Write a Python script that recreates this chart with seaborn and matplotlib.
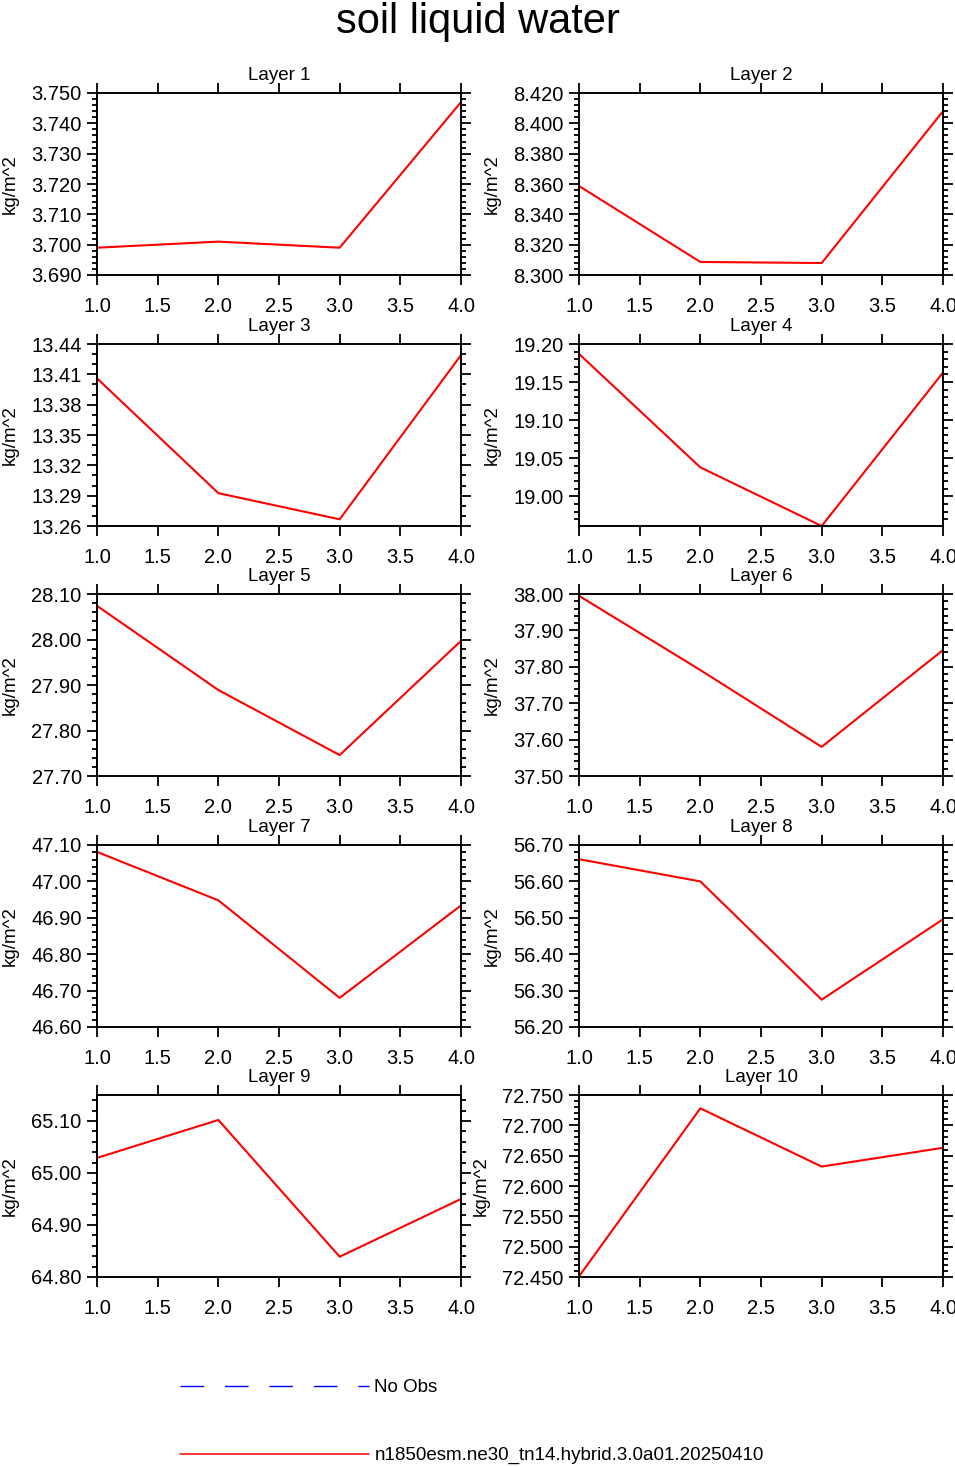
import numpy as np
import pandas as pd
import seaborn as sns
import matplotlib.pyplot as plt
from matplotlib.lines import Line2D
from matplotlib.ticker import FormatStrFormatter, MultipleLocator

sns.set_style("ticks")
plt.rcParams['font.family'] = ['Liberation Sans', 'DejaVu Sans']
plt.rcParams.update({"text.color": "black", "axes.labelcolor": "black",
                     "xtick.color": "black", "ytick.color": "black",
                     "axes.edgecolor": "black"})

# values
years = [1, 2, 3, 4]
layer1 = [3.699, 3.701, 3.699, 3.747]
layer2 = [8.3587, 8.3086, 8.3079, 8.408]
layer3 = [13.406, 13.2925, 13.2666, 13.429]
layer4 = [19.187, 19.038, 18.961, 19.1625]
layer5 = [28.074, 27.889, 27.746, 27.997]
layer6 = [37.995, 37.791, 37.580, 37.846]
layer7 = [47.081, 46.948, 46.680, 46.934]
layer8 = [56.661, 56.600, 56.275, 56.496]
layer9 = [65.029, 65.102, 64.839, 64.950]
layer10 = [72.451, 72.728, 72.632, 72.663]
layers = [layer1, layer2, layer3, layer4, layer5,
          layer6, layer7, layer8, layer9, layer10]
titles = ["Layer %d" % (i + 1) for i in range(10)]

case_name = "n1850esm.ne30_tn14.hybrid.3.0a01.20250410"
units = "kg/m^2"

# axis settings per panel
y_range = [(3.690, 3.750), (8.300, 8.420), (13.26, 13.44), (18.961, 19.20),
           (27.70, 28.10), (37.50, 38.00), (46.60, 47.10), (56.20, 56.70),
           (64.80, 65.15), (72.450, 72.750)]
y_step = [0.01, 0.02, 0.03, 0.05, 0.1, 0.1, 0.1, 0.1, 0.1, 0.05]
y_minor = [0.002, 0.004, 0.01, 0.01, 0.02, 0.02, 0.02, 0.02, 0.02, 0.01]
y_fmt = ["%.3f", "%.3f", "%.2f", "%.2f", "%.2f",
         "%.2f", "%.2f", "%.2f", "%.2f", "%.3f"]

W, H = 955, 1467
fig = plt.figure(figsize=(W / 100, H / 100), dpi=100)

col_left = [97, 579]
row_top = [93, 344, 594, 845, 1095]
pw, ph = 364, 182

for i, vals in enumerate(layers):
    r, c = divmod(i, 2)
    ax = fig.add_axes([col_left[c] / W, 1 - (row_top[r] + ph) / H, pw / W, ph / H])
    df = pd.DataFrame({"x": years, "val": vals})
    sns.lineplot(data=df, x="x", y="val", color="red", linewidth=1.5, ax=ax)

    lo, hi = y_range[i]
    st = y_step[i]
    first = np.ceil(lo / st - 1e-6) * st
    ax.set_yticks(np.round(np.arange(first, hi + st * 1e-3, st), 4))
    ax.yaxis.set_minor_locator(MultipleLocator(y_minor[i]))
    ax.yaxis.set_major_formatter(FormatStrFormatter(y_fmt[i]))
    ax.set_ylim(lo, hi)

    ax.set_xlim(1, 4)
    ax.set_xticks(np.arange(1.0, 4.01, 0.5))
    ax.xaxis.set_major_formatter(FormatStrFormatter("%.1f"))

    ax.tick_params(which="both", direction="out", top=True, right=True,
                   labeltop=False, labelright=False, width=1.3, labelsize=14.5)
    ax.tick_params(which="major", length=7)
    ax.tick_params(which="minor", length=3.5)
    ax.tick_params(axis="x", pad=9)
    ax.tick_params(axis="y", pad=4)
    for sp in ax.spines.values():
        sp.set_linewidth(1.4)
        sp.set_visible(True)

    ax.set_xlabel("")
    ax.set_ylabel(units, fontsize=13.5, labelpad=9)
    ax.set_title(titles[i], fontsize=13.5, pad=9.5)

fig.text(0.5, 1 - 22 / H, "soil liquid water", ha="center", va="center", fontsize=30)

handles = [Line2D([], [], color="blue", linewidth=1, linestyle=(0, (17, 15))),
           Line2D([], [], color="red", linewidth=1.1)]
fig.legend(handles, ["No Obs", case_name], loc="upper left",
           bbox_to_anchor=(180 / W, 1 - 1379 / H), frameon=False,
           fontsize=13.5, handlelength=10.1, handletextpad=0.27,
           labelspacing=2.72, borderpad=0, borderaxespad=0)

fig.savefig("out.png", dpi=100)
